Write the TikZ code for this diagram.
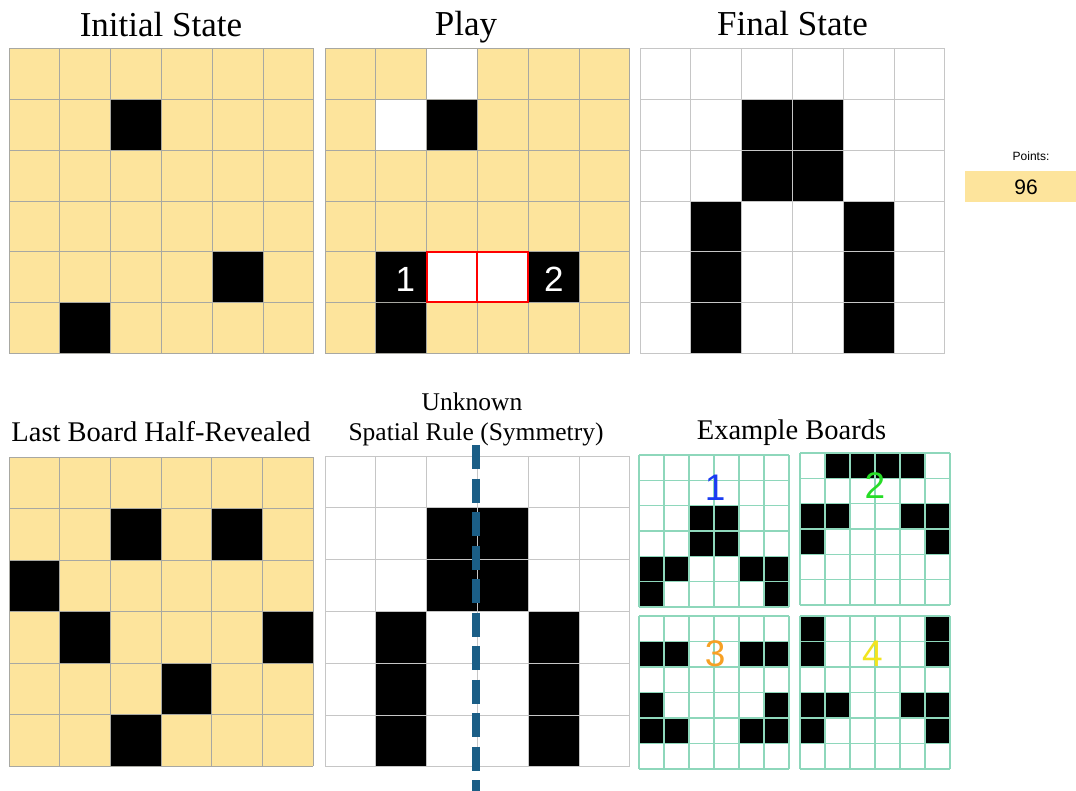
\documentclass[tikz,border=0pt]{standalone}
\usepackage{fontspec}
\setmainfont{Liberation Serif}
\newfontfamily\sansf{Liberation Sans}
\definecolor{cellyellow}{HTML}{FDE49C}
\definecolor{gridgrey}{HTML}{A8A8A2}
\definecolor{lightgrid}{HTML}{C6C6C6}
\definecolor{mint}{HTML}{8ED7BB}
\definecolor{symblue}{HTML}{1B5E86}
\definecolor{numblue}{HTML}{1A3CF2}
\definecolor{numgreen}{HTML}{26DC26}
\definecolor{numorange}{HTML}{F7A023}
\definecolor{numyellow}{HTML}{F2E51E}
\newcommand\fsz[1]{\fontsize{#1}{#1}\selectfont}
\newcommand\gridlines[1]{\foreach \i in {0,...,6} {\draw[#1] (\i,0) -- (\i,6); \draw[#1] (0,\i) -- (6,\i);}}
\tikzset{
  title/.style={anchor=base, inner sep=0pt, font=\fsz{35}},
  subtitle/.style={anchor=base, inner sep=0pt, font=\fsz{28.5}},
  ygrid/.style={gridgrey, line width=1pt},
  wgrid/.style={lightgrid, line width=1pt},
  mgrid/.style={mint, line width=1.4pt},
  blackcell/.style={fill=black},
  exnum/.style={font=\sansf\fsz{37}, inner sep=0pt},
  playnum/.style={font=\sansf\fsz{35}, inner sep=0pt, text=white},
}
\begin{document}
\begin{tikzpicture}[x=1pt, y=-1pt]
\useasboundingbox[fill=white] (0,0) rectangle (1076,791);

% ---------- Titles ----------
\node[title] (t1) at (161,37) {Initial State};
\node[title] (t2) at (466,36) {Play};
\node[title] (t3) at (792.5,36) {Final State};
\node[subtitle] (t4) at (161,441) {Last Board Half-Revealed};
\node[anchor=base, inner sep=0pt, font=\fsz{25.5}] (t5a) at (472,410) {Unknown};
\node[anchor=base, inner sep=0pt, font=\fsz{25.5}] (t5b) at (476,440) {Spatial Rule (Symmetry)};
\node[subtitle] (t6) at (791.5,439) {Example Boards};

% ---------- Initial State ----------
\begin{scope}[shift={(9,49)}, x=50.83pt, y=-50.67pt]
  \fill[cellyellow] (0,0) rectangle (6,6);
  \foreach \r/\c in {1/2,4/4,5/1} \fill[blackcell] (\c,\r) rectangle ++(1,1);
  \gridlines{ygrid}
\end{scope}

% ---------- Play ----------
\begin{scope}[shift={(325,49)}, x=50.83pt, y=-50.67pt]
  \fill[cellyellow] (0,0) rectangle (6,6);
  \foreach \r/\c in {0/2,1/1,4/2,4/3} \fill[white] (\c,\r) rectangle ++(1,1);
  \foreach \r/\c in {1/2,4/1,4/4,5/1} \fill[blackcell] (\c,\r) rectangle ++(1,1);
  \gridlines{ygrid}
  \draw[red, line width=2pt] (2,4) rectangle (3,5) (3,4) rectangle (4,5);
  \node[playnum] (p1) at (1.58,4.55) {1};
  \node[playnum] (p2) at (4.5,4.55) {2};
\end{scope}

% ---------- Final State ----------
\begin{scope}[shift={(640,49)}, x=50.83pt, y=-50.67pt]
  \fill[white] (0,0) rectangle (6,6);
  \foreach \r/\c in {1/2,1/3,2/2,2/3,3/1,3/4,4/1,4/4,5/1,5/4} \fill[blackcell] (\c,\r) rectangle ++(1,1);
  \gridlines{wgrid}
\end{scope}

% ---------- Points ----------
\fill[cellyellow] (965,171) rectangle (1076,202);
\node[font=\sansf\fsz{12}, inner sep=0pt] (ptlabel) at (1031,156) {Points:};
\node[font=\sansf\fsz{21}, inner sep=0pt] (ptval) at (1026,187) {96};

% ---------- Last Board Half-Revealed ----------
\begin{scope}[shift={(9,457)}, x=50.67pt, y=-51.5pt]
  \fill[cellyellow] (0,0) rectangle (6,6);
  \foreach \r/\c in {1/2,1/4,2/0,3/1,3/5,4/3,5/2} \fill[blackcell] (\c,\r) rectangle ++(1,1);
  \gridlines{ygrid}
\end{scope}

% ---------- Symmetry ----------
\begin{scope}[shift={(325,456)}, x=50.83pt, y=-51.8pt]
  \fill[white] (0,0) rectangle (6,6);
  \foreach \r/\c in {1/2,1/3,2/2,2/3,3/1,3/4,4/1,4/4,5/1,5/4} \fill[blackcell] (\c,\r) rectangle ++(1,1);
  \gridlines{wgrid}
\end{scope}
\coordinate (axtop) at (476,445);
\coordinate (axbot) at (476,795);
\draw[symblue, line width=8pt, dash pattern=on 24pt off 9.5pt] (axtop) -- (axbot);

% ---------- Example Boards ----------
\begin{scope}[shift={(639,455)}, x=25pt, y=-25.3pt]
  \fill[white] (0,0) rectangle (6,6);
  \foreach \r/\c in {2/2,2/3,3/2,3/3,4/0,4/1,4/4,4/5,5/0,5/5} \fill[blackcell] (\c,\r) rectangle ++(1,1);
  \gridlines{mgrid}
  \node[exnum, text=numblue] (e1) at (3.05,1.3) {1};
\end{scope}
\begin{scope}[shift={(800,453)}, x=25pt, y=-25.3pt]
  \fill[white] (0,0) rectangle (6,6);
  \foreach \r/\c in {0/1,0/2,0/3,0/4,2/0,2/1,2/4,2/5,3/0,3/5} \fill[blackcell] (\c,\r) rectangle ++(1,1);
  \gridlines{mgrid}
  \node[exnum, text=numgreen] (e2) at (3,1.3) {2};
\end{scope}
\begin{scope}[shift={(639,616)}, x=25pt, y=-25.5pt]
  \fill[white] (0,0) rectangle (6,6);
  \foreach \r/\c in {1/0,1/1,1/4,1/5,3/0,3/5,4/0,4/1,4/4,4/5} \fill[blackcell] (\c,\r) rectangle ++(1,1);
  \gridlines{mgrid}
  \node[exnum, text=numorange] (e3) at (3.05,1.5) {3};
\end{scope}
\begin{scope}[shift={(800,616)}, x=25pt, y=-25.5pt]
  \fill[white] (0,0) rectangle (6,6);
  \foreach \r/\c in {0/0,0/5,1/0,1/5,3/0,3/1,3/4,3/5,4/0,4/5} \fill[blackcell] (\c,\r) rectangle ++(1,1);
  \gridlines{mgrid}
  \node[exnum, text=numyellow] (e4) at (2.9,1.5) {4};
\end{scope}
\end{tikzpicture}
\end{document}
